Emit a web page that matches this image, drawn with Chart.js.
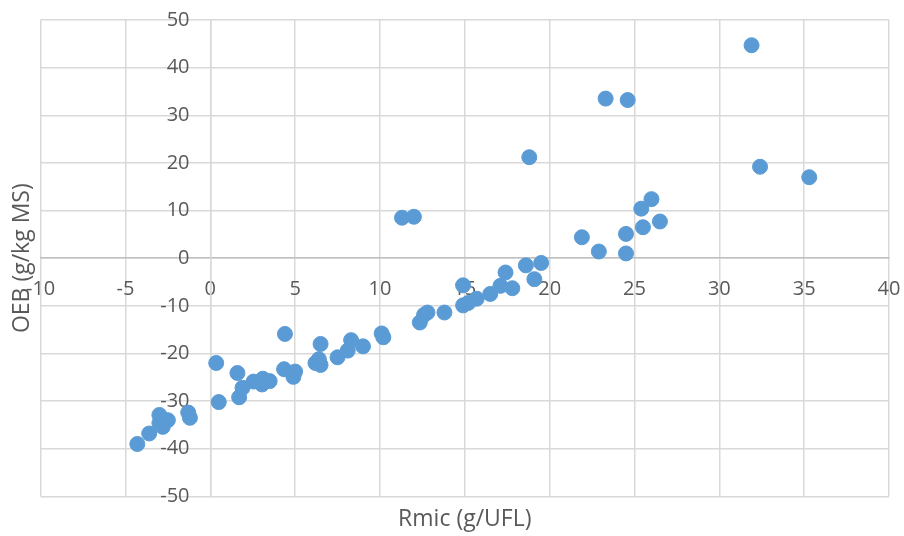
<!DOCTYPE html>
<html>
<head>
<meta charset="utf-8">
<script src="https://cdn.jsdelivr.net/npm/chart.js@4.4.1/dist/chart.umd.min.js"></script>
<style>
  html, body { margin: 0; padding: 0; background: #fff; }
</style>
</head>
<body>
<canvas id="myChart" width="904" height="536"></canvas>
<script>
// Rmic (g/UFL) and OEB (g/kg MS), one pair per point
var rmic = [31.9, 23.3, 24.6, 32.4, 35.3, 26.0, 25.4, 26.5, 25.5, 21.9, 24.5, 22.9, 24.5, 19.5, 18.8,
  11.3, 12.0, 18.6, 19.1, 17.4, 17.1, 17.8, 16.5, 14.9, 15.7, 15.2, 14.9, 13.8, 12.8, 12.6, 12.35,
  10.1, 10.2, -4.3, -3.6, -3.0, -2.8, -2.5, -3.0, -1.3, -1.2, 0.35, 0.5, 1.6, 1.7, 1.9, 2.55,
  3.1, 3.05, 3.5, 4.4, 4.35, 4.9, 5.0, 6.5, 6.2, 6.5, 6.4, 7.5, 8.1, 8.3, 9.0];
var oeb = [44.7, 33.5, 33.2, 19.2, 17.0, 12.4, 10.4, 7.7, 6.5, 4.4, 5.1, 1.4, 1.0, -1.0, 21.2,
  8.5, 8.7, -1.5, -4.4, -3.0, -5.8, -6.3, -7.5, -5.7, -8.5, -9.4, -9.9, -11.4, -11.4, -11.9, -13.5,
  -15.8, -16.6, -39.0, -36.8, -32.9, -35.4, -34.0, -34.6, -32.4, -33.5, -22.0, -30.2, -24.1, -29.2, -27.2, -25.9,
  -25.3, -26.5, -25.8, -15.9, -23.3, -24.9, -23.8, -18.0, -22.0, -22.4, -21.2, -20.8, -19.4, -17.2, -18.5];

var xMin = -10, xMax = 40, xStep = 5;
var yMin = -50, yMax = 50, yStep = 10;

var points = rmic.map(function (x, i) { return { x: x, y: oeb[i] }; });

var textColor = "#595959";
var gridColor = "#d9d9d9";

new Chart("myChart", {
  type: "scatter",
  data: {
    datasets: [
      {
        data: points,
        backgroundColor: "#5b9bd5",
        borderColor: "#5b9bd5",
        pointRadius: 7.5,
        pointHoverRadius: 7.5,
      },
    ],
  },
  options: {
    responsive: false,
    animation: false,
    layout: { padding: { top: 20, right: 15, bottom: 0, left: 0 } },
    plugins: {
      legend: { display: false },
      tooltip: { enabled: false },
      title: {
        display: true,
        text: "Rmic (g/UFL)",
        position: "bottom",
        fullSize: false,
        color: textColor,
        font: { family: "Open Sans", size: 23, weight: "normal" },
        padding: { top: 9, bottom: 3 },
      },
      subtitle: {
        display: true,
        text: "OEB (g/kg MS)",
        position: "left",
        fullSize: false,
        color: textColor,
        font: { family: "Open Sans", size: 23, weight: "normal" },
        padding: { top: 9, bottom: 4 },
      },
    },
    scales: {
      x: {
        type: "linear",
        position: { y: 0 },
        min: xMin,
        max: xMax,
        // invisible tick marks push the labels below the zero line
        grid: { color: gridColor, lineWidth: 1.5, drawTicks: true, tickLength: 19, tickColor: "rgba(0,0,0,0)" },
        border: { color: "#bfbfbf", width: 1.5 },
        ticks: {
          stepSize: xStep,
          padding: 0,
          color: textColor,
          font: { family: "Open Sans", size: 20 },
          callback: function (v) { return String(v); },
        },
      },
      y: {
        type: "linear",
        position: { x: 0 },
        min: yMin,
        max: yMax,
        grid: { color: gridColor, lineWidth: 1.5, drawTicks: false },
        border: { color: gridColor, width: 1.5 },
        ticks: {
          stepSize: yStep,
          padding: 0,
          color: textColor,
          font: { family: "Open Sans", size: 20 },
          // labels sit left of the axis line, with a gap
          callback: function (v) { return String(v) + "    "; },
        },
      },
    },
  },
});
</script>
</body>
</html>
